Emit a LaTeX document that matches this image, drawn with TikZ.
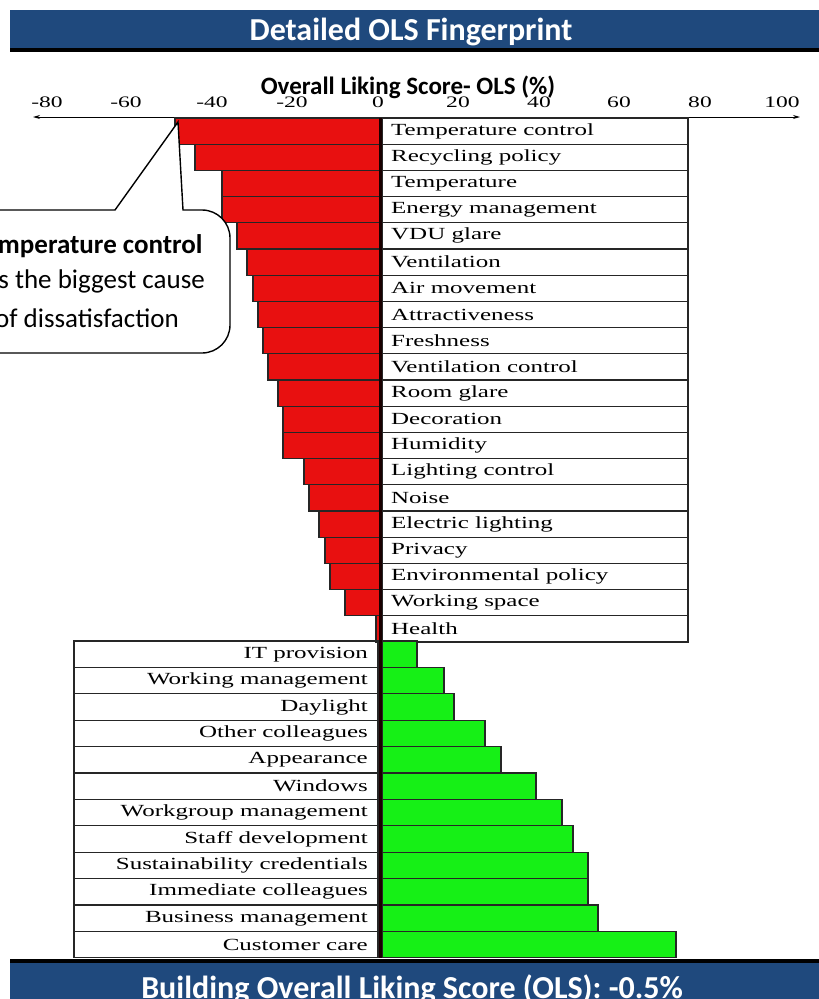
\documentclass[tikz,border=0pt]{standalone}
\usepackage{fontspec}
\setmainfont{Liberation Serif}
\newfontfamily\carl{Carlito}
\usepackage{graphicx}
\usetikzlibrary{arrows.meta}
\definecolor{hdrblue}{RGB}{31,73,125}
\definecolor{barred}{RGB}{232,16,16}
\definecolor{bargreen}{RGB}{22,240,22}
\newcommand{\wlbl}[1]{\scalebox{1.47}[1]{#1}}
\tikzset{
  boxline/.style={draw=black!85, line width=1.3pt},
  rbar/.style={fill=barred, draw=black!85, line width=1.3pt},
  gbar/.style={fill=bargreen, draw=black!85, line width=1.3pt},
  lbl/.style={inner sep=0pt, font=\fontsize{17}{17}\selectfont},
  tick/.style={inner sep=0pt, font=\fontsize{16}{16}\selectfont},
  hdr/.style={text=white, font=\carl\bfseries\fontsize{32}{32}\selectfont, inner sep=0pt},
  callout/.style={inner sep=0pt, font=\carl\fontsize{27}{27}\selectfont},
}
\begin{document}
\begin{tikzpicture}[x=1pt,y=-1pt]
\useasboundingbox (0,0) rectangle (819,999);
\clip (0,0) rectangle (819,999);
% header
\fill[hdrblue] (10,10) rectangle (819,48);
\fill[black] (10,48) rectangle (819,52);
\node[hdr, anchor=base] (title) at (411,40) {Detailed OLS Fingerprint};
% footer
\fill[black] (10,959) rectangle (819,963);
\fill[hdrblue] (10,963) rectangle (819,999);
\node[hdr, anchor=base] (footer) at (412,998) {Building Overall Liking Score (OLS): -0.5\%};
% axis
\node[inner sep=0pt, anchor=base, font=\carl\bfseries\fontsize{25}{25}\selectfont] (axtitle) at (408,94) {Overall Liking Score- OLS (\%)};
\coordinate (axL) at (33,117);
\coordinate (axR) at (800,117);
\draw[line width=0.9pt, {Stealth[length=7pt,width=4pt]}-{Stealth[length=7pt,width=4pt]}] (axL) -- (axR);
\foreach \tx/\tv [count=\k] in {47/-80,126/-60,212/-40,292/-20,378/0,458/20,539/40,619/60,700/80,782/100}
  \node[tick] (tk\k) at (\tx,102) {\wlbl{\tv}};
% negative rows
\foreach \lx/\nm [count=\i from 0] in {175/Temperature control,195/Recycling policy,222/Temperature,222/Energy management,237/VDU glare,247/Ventilation,253/Air movement,258/Attractiveness,263/Freshness,268/Ventilation control,278/Room glare,283/Decoration,283/Humidity,304/Lighting control,309/Noise,319/Electric lighting,325/Privacy,330/Environmental policy,345/Working space,376/Health}{
  \pgfmathsetmacro{\yt}{118+\i*26.2}
  \pgfmathsetmacro{\yb}{\yt+26.2}
  \pgfmathsetmacro{\ym}{\yt+13.1}
  \draw[rbar] (\lx,\yt) rectangle (380,\yb);
  \draw[boxline] (382,\yt) rectangle (688,\yb);
  \node[lbl, anchor=west] (r\i) at (391,\ym) {\wlbl{\nm}};
}
% positive rows
\foreach \rx/\nm [count=\j from 0] in {417/IT provision,444/Working management,454/Daylight,485/Other colleagues,501/Appearance,536/Windows,562/Workgroup management,573/Staff development,588/Sustainability credentials,588/Immediate colleagues,598/Business management,676/Customer care}{
  \pgfmathsetmacro{\yt}{641+\j*26.4}
  \pgfmathsetmacro{\yb}{\yt+26.4}
  \pgfmathsetmacro{\ym}{\yt+13.2}
  \draw[gbar] (382,\yt) rectangle (\rx,\yb);
  \draw[boxline] (74,\yt) rectangle (378,\yb);
  \node[lbl, anchor=east] (g\j) at (368,\ym) {\wlbl{\nm}};
}
% zero line
\coordinate (z1) at (380,118);
\coordinate (z2) at (380,958);
\draw[line width=3pt, black!90!red] (z1) -- (z2);
% callout
\coordinate (tip) at (178,122);
\draw[fill=white, draw=black, line width=1.4pt]
  (-40,210) -- (115,210) -- (tip) -- (183,210) -- (202,210)
  arc[start angle=-90, end angle=0, radius=28] -- (230,325)
  arc[start angle=0, end angle=90, radius=28] -- (-40,353);
\node[callout, font=\carl\bfseries\fontsize{27}{27}\selectfont] (c1) at (88,246) {Temperature control};
\node[callout] (c2) at (88,281) {has the biggest cause};
\node[callout] (c3) at (87,318) {of dissatisfaction};
\end{tikzpicture}
\end{document}
